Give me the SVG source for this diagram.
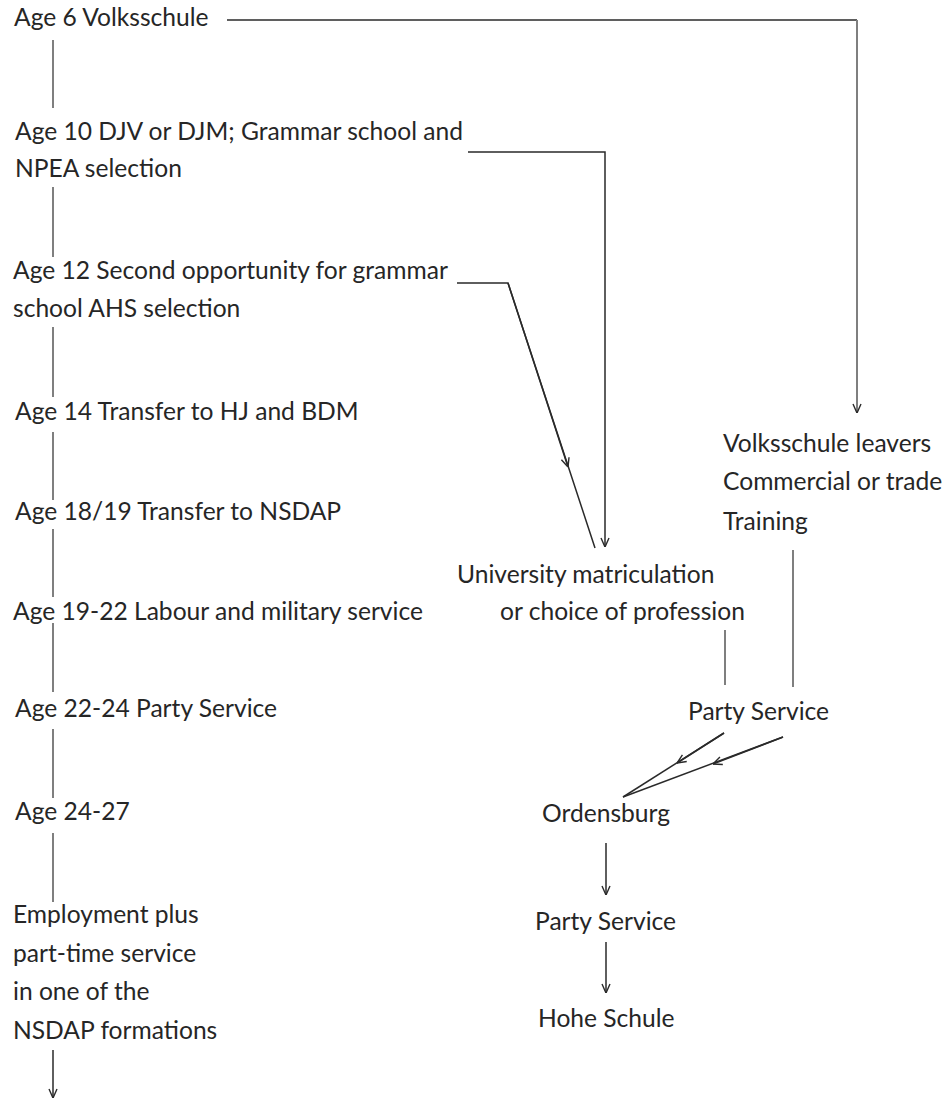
<svg xmlns="http://www.w3.org/2000/svg" width="949" height="1101" viewBox="0 0 949 1101">
<defs>
<style>
text{font-family:Lato,"Liberation Sans",sans-serif;font-size:24.6px;fill:#262626}
.v{stroke:#7f7f7f;stroke-width:2;fill:none}
.c{stroke:#2a2a2a;stroke-width:1.5;fill:none}
.end{marker-end:url(#ah)}
</style>
<marker id="ah" viewBox="0 0 10 10" refX="10" refY="5" markerWidth="10" markerHeight="10" markerUnits="userSpaceOnUse" orient="auto">
<path d="M1,1 L10,5 L1,9" fill="none" stroke="#2a2a2a" stroke-width="1.4"/>
</marker>
</defs>
<rect width="949" height="1101" fill="#fff"/>
<g id="n-age6"><text x="14" y="26">Age 6 Volksschule</text></g>
<g id="n-age10"><text x="15" y="140">Age 10 DJV or DJM; Grammar school and</text><text x="15" y="177">NPEA selection</text></g>
<g id="n-age12"><text x="13" y="279">Age 12 Second opportunity for grammar</text><text x="13" y="317">school AHS selection</text></g>
<g id="n-age14"><text x="15" y="420">Age 14 Transfer to HJ and BDM</text></g>
<g id="n-age18"><text x="15" y="520">Age 18/19 Transfer to NSDAP</text></g>
<g id="n-age19"><text x="13" y="620">Age 19-22 Labour and military service</text></g>
<g id="n-age22"><text x="15" y="717">Age 22-24 Party Service</text></g>
<g id="n-age24"><text x="15" y="820">Age 24-27</text></g>
<g id="n-employ"><text x="13" y="923">Employment plus</text><text x="13" y="962">part-time service</text><text x="13" y="1000">in one of the</text><text x="13" y="1039">NSDAP formations</text></g>
<g id="n-leavers"><text x="723" y="452">Volksschule leavers</text><text x="723" y="490">Commercial or trade</text><text x="723" y="530">Training</text></g>
<g id="n-univ"><text x="457" y="583">University matriculation</text><text x="500" y="620">or choice of profession</text></g>
<g id="n-party1"><text x="688" y="720">Party Service</text></g>
<g id="n-ordensburg"><text x="542" y="822">Ordensburg</text></g>
<g id="n-party2"><text x="535" y="930">Party Service</text></g>
<g id="n-hohe"><text x="538" y="1027">Hohe Schule</text></g>
<g id="connectors">
<line class="v" x1="53" y1="40" x2="53" y2="108"/>
<line class="v" x1="53" y1="187" x2="53" y2="257"/>
<line class="v" x1="53" y1="327" x2="53" y2="397"/>
<line class="v" x1="53" y1="432" x2="53" y2="500"/>
<line class="v" x1="53" y1="529" x2="53" y2="597"/>
<line class="v" x1="53" y1="623" x2="53" y2="692"/>
<line class="v" x1="53" y1="729" x2="53" y2="798"/>
<line class="v" x1="53" y1="833" x2="53" y2="902"/>
<path class="c end" d="M53,1050 L53,1098"/>
<path class="c" d="M227,20 L857,20"/>
<path class="v end" d="M857,20 L857,413"/>
<path class="c end" d="M468,152 L605,152 L605,547"/>
<path class="c" d="M457,283 L508,283 L595,548"/>
<path class="c end" d="M508,283 L568,467"/>
<line class="v" x1="725" y1="630" x2="725" y2="685"/>
<line class="v" x1="793" y1="550" x2="793" y2="687"/>
<path class="c" d="M724,733 L623,797"/>
<path class="c end" d="M724,733 L677,763"/>
<path class="c" d="M783,737 L623,797"/>
<path class="c end" d="M783,737 L713,764"/>
<path class="c end" d="M606,843 L606,895"/>
<path class="c end" d="M606,942 L606,993"/>
</g>
</svg>
